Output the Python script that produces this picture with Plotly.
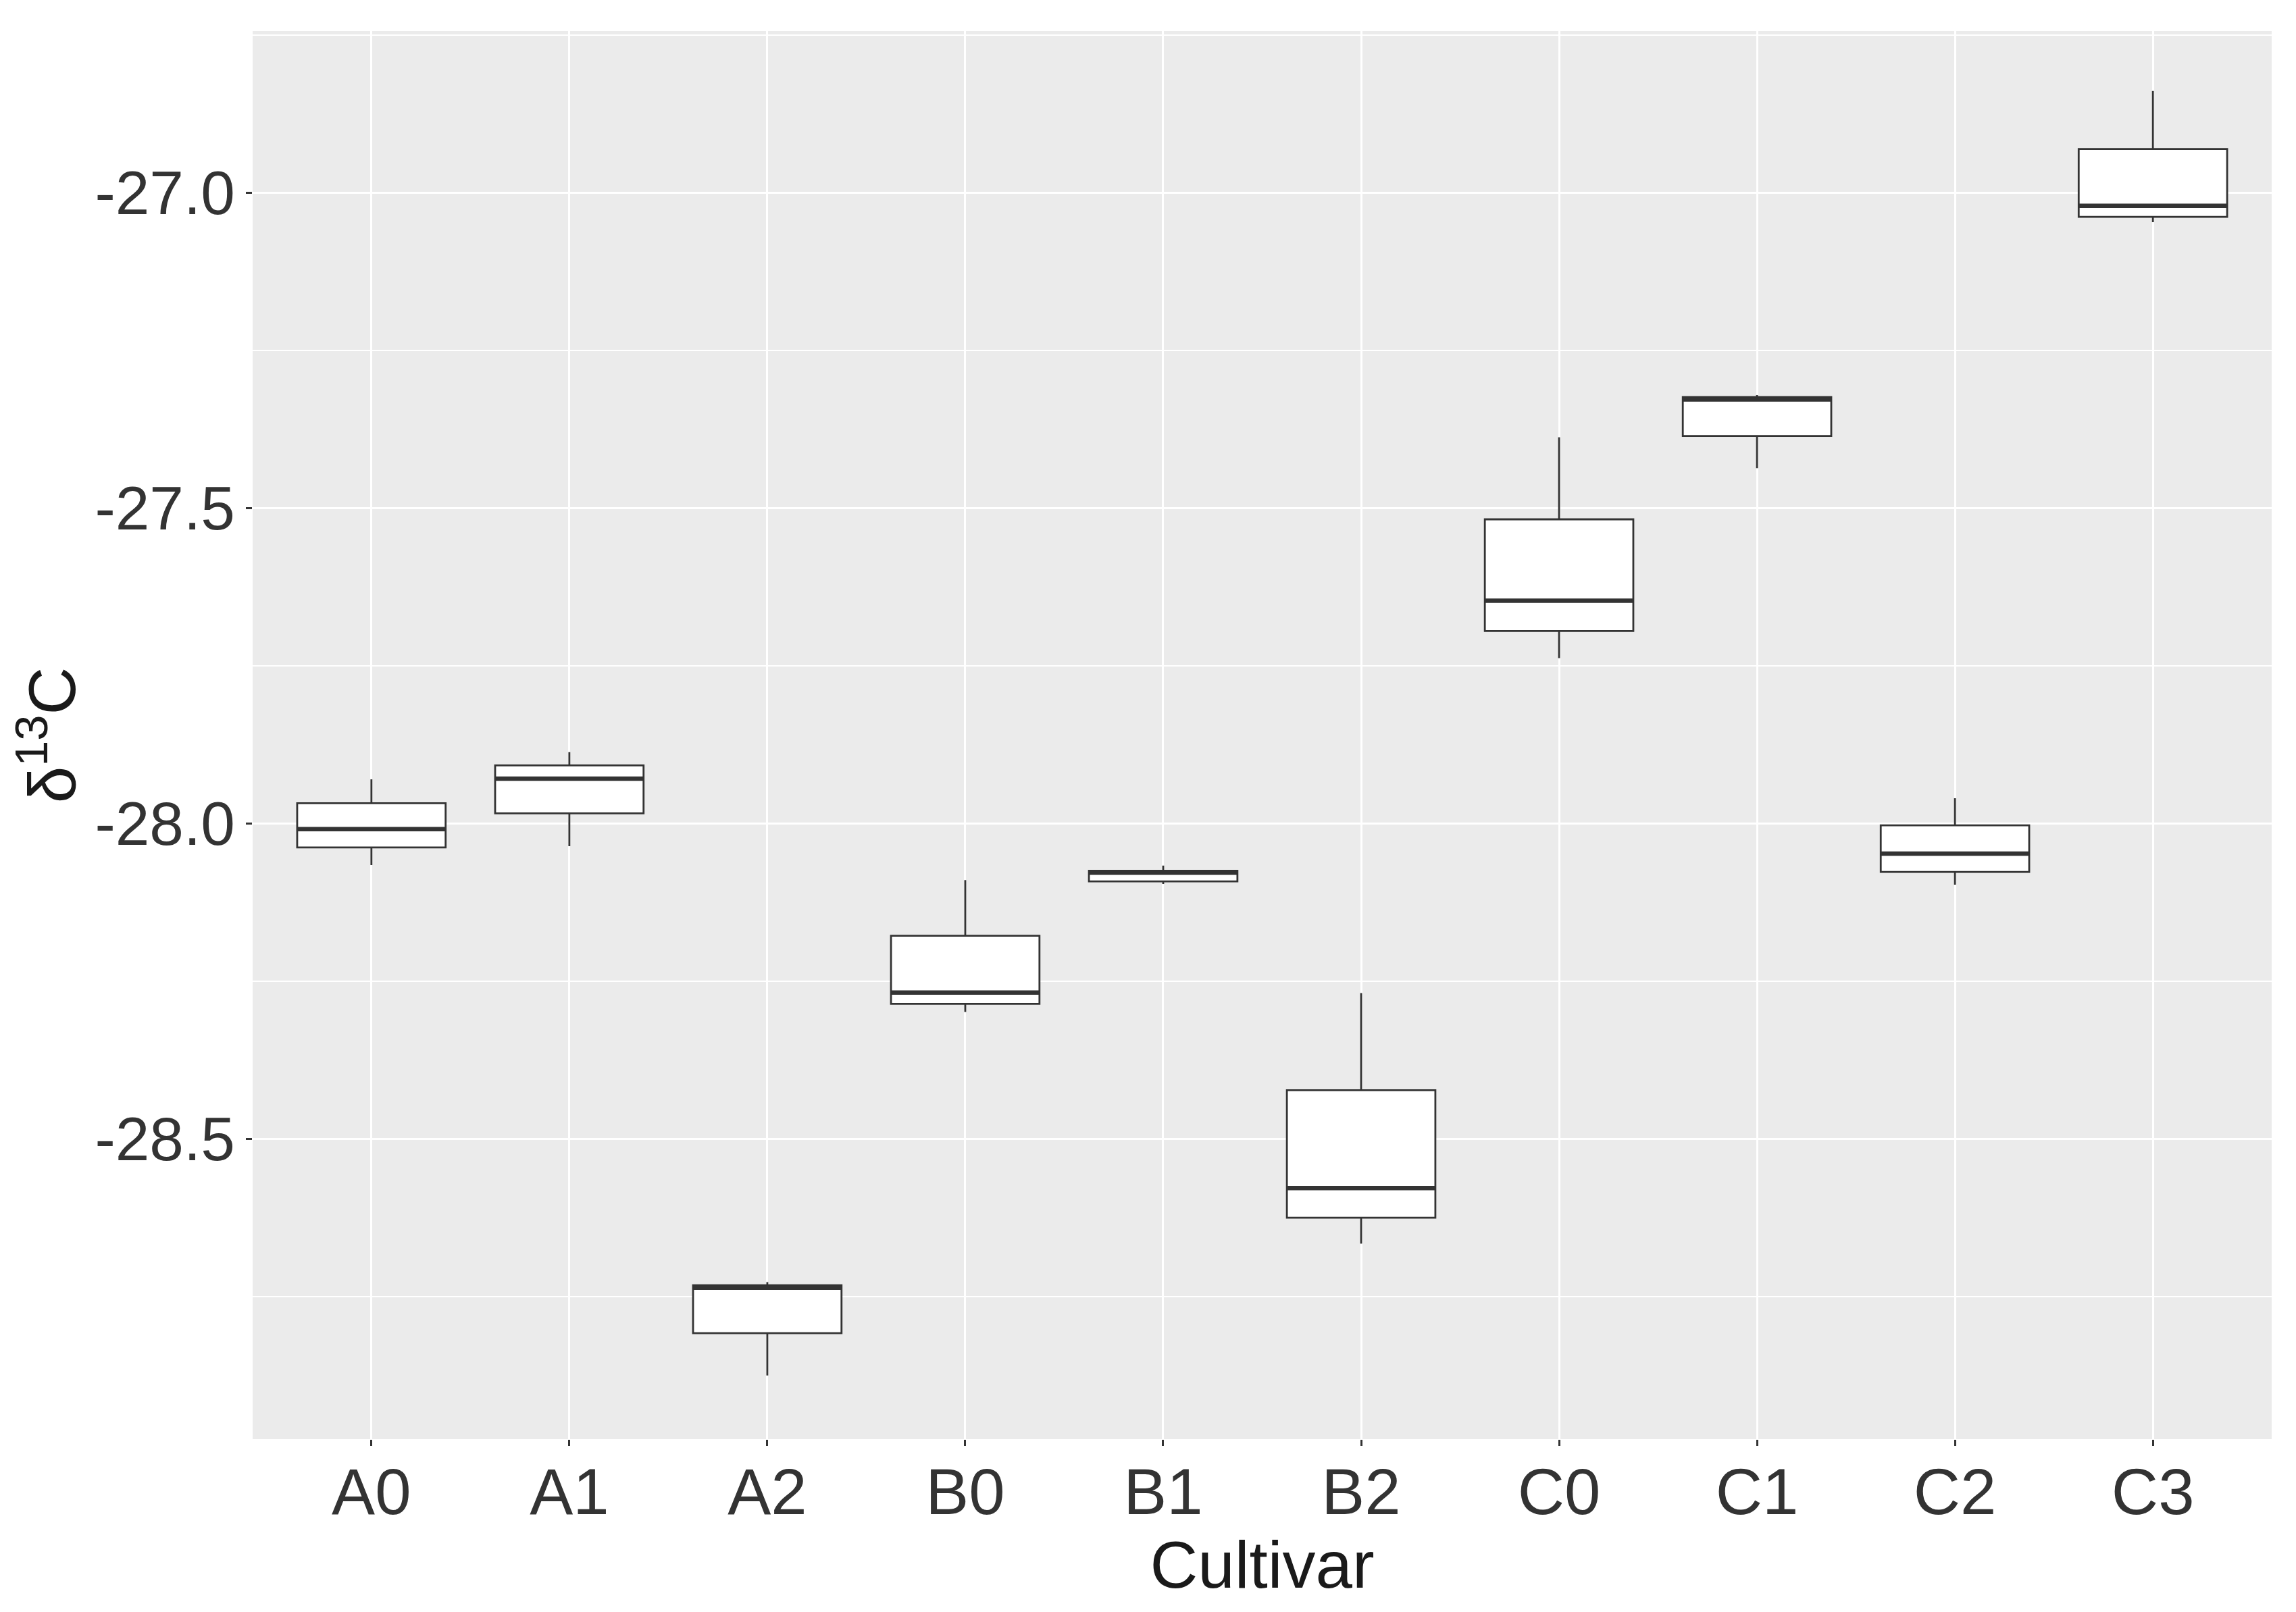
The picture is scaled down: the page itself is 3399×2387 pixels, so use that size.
import plotly.graph_objects as go

# data (delta 13C per cultivar)
cultivars = ["A0", "A1", "A2", "B0", "B1", "B2", "C0", "C1", "C2", "C3"]
lower_whisker = [-28.066, -28.036, -28.875, -28.299, -28.096, -28.666, -27.738, -27.437, -28.097, -27.047]
q1 = [-28.038, -27.984, -28.808, -28.286, -28.092, -28.625, -27.695, -27.386, -28.077, -27.0385]
median = [-28.009, -27.929, -28.736, -28.268, -28.078, -28.578, -27.647, -27.328, -28.048, -27.021]
q3 = [-27.968, -27.908, -28.732, -28.178, -28.075, -28.423, -27.518, -27.324, -28.003, -26.931]
upper_whisker = [-27.930, -27.887, -28.727, -28.090, -28.067, -28.269, -27.388, -27.321, -27.960, -26.839]

ytick_vals = [-27.0, -27.5, -28.0, -28.5]
ytick_text = ["-27.0", "-27.5", "-28.0", "-28.5"]

FONT = "Liberation Sans, Arial, sans-serif"
DARK = "#333333"

fig = go.Figure()

# boxes
fig.add_trace(go.Box(
    x=cultivars, q1=q1, median=median, q3=q3,
    lowerfence=lower_whisker, upperfence=upper_whisker,
    width=0.75, whiskerwidth=0, boxpoints=False,
    fillcolor="white", line=dict(color=DARK, width=2.8),
    showlegend=False, hoverinfo="skip",
))

# thicker median line (ggplot fatten) as a flat box on top
fig.add_trace(go.Box(
    x=cultivars, q1=median, median=median, q3=median,
    lowerfence=median, upperfence=median,
    width=0.75, whiskerwidth=0, boxpoints=False,
    fillcolor="rgba(0,0,0,0)", line=dict(color=DARK, width=6.5),
    showlegend=False, hoverinfo="skip",
))

# page body has an 8px margin, so the figure is shrunk by that much
fig.update_layout(
    width=3391, height=2379,
    margin=dict(l=366, r=36, t=38, b=256),
    paper_bgcolor="white",
    plot_bgcolor="#EBEBEB",
    boxmode="overlay",
    font=dict(family=FONT, size=96, color="#1a1a1a"),
    xaxis=dict(
        type="category",
        categoryorder="array", categoryarray=cultivars,
        range=[-0.6, len(cultivars) - 0.4],
        showgrid=True, gridcolor="white", gridwidth=3,
        zeroline=False, showline=False,
        ticks="outside", ticklen=9, tickwidth=2.5, tickcolor=DARK,
        ticklabelstandoff=-14,
        tickfont=dict(size=96, color="#333333"),
        title=dict(text="Cultivar", font=dict(size=98, color="#1a1a1a"), standoff=6),
    ),
    yaxis=dict(
        range=[-28.976, -26.744],
        tickvals=ytick_vals, ticktext=ytick_text,
        showgrid=True, gridcolor="white", gridwidth=3,
        minor=dict(dtick=0.25, tick0=-27.0, showgrid=True, gridcolor="white", gridwidth=1.8, ticks=""),
        zeroline=False, showline=False,
        ticks="outside", ticklen=9, tickwidth=2.5, tickcolor=DARK,
        ticklabelstandoff=-2,
        tickfont=dict(size=91, color="#333333"),
        title=dict(text="δ<sup>13</sup>C", font=dict(size=98, color="#1a1a1a"), standoff=0),
    ),
)

fig.write_html("out.html")
